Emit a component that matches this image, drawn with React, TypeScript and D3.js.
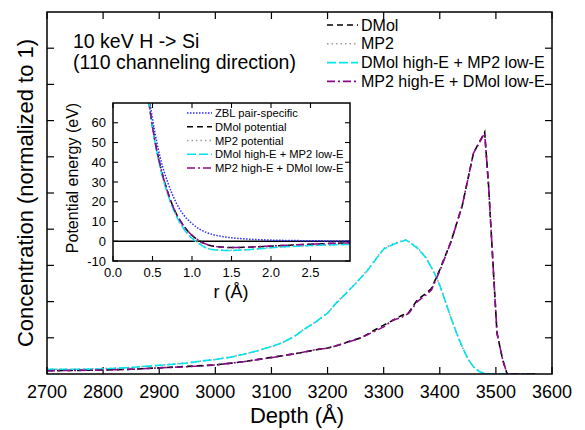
import React from "react";
import * as d3 from "d3";

// ---------- Main plot data (depth profile) ----------
const depthCyan = [2700, 2750, 2800, 2850, 2900, 2950, 2975, 3000, 3030, 3060, 3080, 3090, 3100, 3120, 3140, 3160, 3180, 3200, 3215, 3230, 3250, 3270, 3290, 3300, 3320, 3340, 3360, 3375, 3390, 3400, 3410, 3420, 3430, 3440, 3450, 3460, 3470, 3480, 3490, 3520, 3565];
const concCyan = [0.013, 0.013, 0.014, 0.018, 0.024, 0.03, 0.036, 0.04, 0.047, 0.058, 0.066, 0.072, 0.075, 0.087, 0.103, 0.125, 0.145, 0.168, 0.195, 0.218, 0.25, 0.284, 0.325, 0.345, 0.36, 0.37, 0.348, 0.322, 0.28, 0.245, 0.2, 0.155, 0.113, 0.075, 0.042, 0.02, 0.007, 0.001, 0, 0, 0];
const concMP2 = [0.013, 0.013, 0.015, 0.018, 0.024, 0.031, 0.036, 0.04, 0.048, 0.058, 0.066, 0.072, 0.076, 0.087, 0.103, 0.126, 0.145, 0.168, 0.196, 0.219, 0.25, 0.285, 0.326, 0.347, 0.362, 0.371, 0.35, 0.322, 0.281, 0.245, 0.2, 0.155, 0.113, 0.075, 0.042, 0.02, 0.007, 0.001, 0, 0, 0];

const depthPurple = [2700, 2750, 2800, 2850, 2900, 2950, 3000, 3050, 3100, 3150, 3180, 3200, 3220, 3240, 3260, 3280, 3300, 3315, 3330, 3345, 3360, 3375, 3385, 3400, 3420, 3440, 3460, 3480, 3487, 3495, 3502, 3512, 3520, 3570];
const concPurple = [0.009, 0.01, 0.011, 0.013, 0.017, 0.02, 0.025, 0.034, 0.045, 0.058, 0.068, 0.071, 0.08, 0.09, 0.1, 0.115, 0.13, 0.148, 0.155, 0.168, 0.2, 0.218, 0.232, 0.285, 0.365, 0.465, 0.61, 0.665, 0.52, 0.3, 0.113, 0.04, 0, 0];
const concDMol = [0.009, 0.01, 0.011, 0.013, 0.017, 0.021, 0.025, 0.034, 0.046, 0.058, 0.067, 0.072, 0.08, 0.091, 0.1, 0.118, 0.135, 0.147, 0.16, 0.17, 0.205, 0.222, 0.236, 0.288, 0.366, 0.465, 0.61, 0.668, 0.52, 0.3, 0.113, 0.04, 0, 0];

const depthTicks = [2700, 2800, 2900, 3000, 3100, 3200, 3300, 3400, 3500, 3600];
const concTicks = [0.1, 0.2, 0.3, 0.4, 0.5, 0.6, 0.7, 0.8, 0.9];

const mainLegend = ["DMol", "MP2", "DMol high-E + MP2 low-E", "MP2 high-E + DMol low-E"];

// ---------- Inset data (potentials) ----------
const rZBL = [0.4, 0.45, 0.5, 0.6, 0.7, 0.8, 0.9, 1.0, 1.1, 1.2, 1.4, 1.6, 1.8, 2.0, 2.5, 3.0];
const eZBL = [92, 75, 62, 42, 29, 19.5, 13, 9, 6, 4.2, 2.3, 1.4, 0.9, 0.6, 0.25, 0.1];

const rPot = [0.4, 0.45, 0.5, 0.6, 0.7, 0.8, 0.9, 1.0, 1.1, 1.2, 1.3, 1.5, 1.7, 2.0, 2.5, 3.0];
const eDMol = [90, 72, 58, 38, 24, 14, 7.5, 3, 0, -1.8, -2.7, -3.2, -3.0, -2.5, -1.5, -0.8];
const eMP2 = [90, 72, 57.5, 37, 23, 13, 6.2, 1.8, -1.2, -3.6, -4.3, -4.6, -4.2, -3.2, -2.2, -1.5];
const eCyan = [90, 72, 57.5, 37, 23, 13, 6, 1.5, -1.5, -3.8, -4.4, -4.7, -4.3, -3.3, -2.2, -1.6];
const ePurple = [90, 72, 58, 38, 24, 14, 7.5, 3, 0, -1.8, -2.7, -3.2, -3.0, -2.4, -1.5, -0.8];

const rTicks = [0, 0.5, 1.0, 1.5, 2.0, 2.5];
const eTicks = [-10, 0, 10, 20, 30, 40, 50, 60];

const insetLegend = ["ZBL pair-specific", "DMol potential", "MP2 potential", "DMol high-E + MP2 low-E", "MP2 high-E + DMol low-E"];

const FONT = "'Liberation Sans', Arial, Helvetica, sans-serif";
const CYAN = "#00e5ee";
const PURPLE = "#8b0a8b";
const GRAY = "#9a9a9a";
const BLUE = "#2a2aff";

const styles = {
  dmol: { stroke: "#000", dash: "6,4" },
  mp2: { stroke: GRAY, dash: "1.5,3" },
  cyan: { stroke: CYAN, dash: "9,3" },
  purple: { stroke: PURPLE, dash: "8,3,2,3" },
  zbl: { stroke: BLUE, dash: "1.5,1.5" },
};

export default function App() {
  const W = 585, H = 430;
  const m = { l: 47, r: 552, t: 12, b: 374 };
  const x = d3.scaleLinear().domain([2700, 3600]).range([m.l, m.r]);
  const y = d3.scaleLinear().domain([0, 1]).range([m.b, m.t]);

  const ins = { l: 113, r: 350, t: 103, b: 261 };
  const xi = d3.scaleLinear().domain([0, 3]).range([ins.l, ins.r]);
  const yi = d3.scaleLinear().domain([-10, 70]).range([ins.b, ins.t]);

  const mainLine = (xs: number[], ys: number[]) =>
    d3.line<number>().x((_, i) => x(xs[i])).y((v) => y(v))(ys) || "";
  const insLine = (xs: number[], ys: number[]) =>
    d3.line<number>().x((_, i) => xi(xs[i])).y((v) => yi(v)).curve(d3.curveMonotoneX)(ys) || "";

  const mainSeries = [
    { d: mainLine(depthPurple, concDMol), s: styles.dmol },
    { d: mainLine(depthCyan, concMP2), s: styles.mp2 },
    { d: mainLine(depthCyan, concCyan), s: styles.cyan },
    { d: mainLine(depthPurple, concPurple), s: styles.purple },
  ];
  const mainLegendStyles = [styles.dmol, styles.mp2, styles.cyan, styles.purple];

  const insSeries = [
    { d: insLine(rZBL, eZBL), s: styles.zbl },
    { d: insLine(rPot, eDMol), s: styles.dmol },
    { d: insLine(rPot, eMP2), s: styles.mp2 },
    { d: insLine(rPot, eCyan), s: styles.cyan },
    { d: insLine(rPot, ePurple), s: styles.purple },
  ];
  const insLegendStyles = [styles.zbl, styles.dmol, styles.mp2, styles.cyan, styles.purple];

  const tk = 7;
  const tki = 5;

  return (
    <svg width={W} height={H} style={{ position: "absolute", left: 0, top: 0, background: "#fff" }} fontFamily={FONT}>
      <defs>
        <clipPath id="mainClip">
          <rect x={m.l} y={m.t} width={m.r - m.l} height={m.b - m.t} />
        </clipPath>
        <clipPath id="insClip">
          <rect x={ins.l} y={ins.t} width={ins.r - ins.l} height={ins.b - ins.t} />
        </clipPath>
      </defs>
      <rect x={0} y={0} width={W} height={H} fill="#fff" />

      {/* Main ticks */}
      {depthTicks.map((t) => (
        <g key={"xt" + t}>
          <line x1={x(t)} x2={x(t)} y1={m.b} y2={m.b - tk} stroke="#000" strokeWidth={1.2} />
          <line x1={x(t)} x2={x(t)} y1={m.t} y2={m.t + tk} stroke="#000" strokeWidth={1.2} />
          <text x={x(t)} y={398} fontSize={18} textAnchor="middle" fill="#000">{t}</text>
        </g>
      ))}
      {concTicks.map((t) => (
        <g key={"yt" + t}>
          <line x1={m.l} x2={m.l + tk} y1={y(t)} y2={y(t)} stroke="#000" strokeWidth={1.2} />
          <line x1={m.r} x2={m.r - tk} y1={y(t)} y2={y(t)} stroke="#000" strokeWidth={1.2} />
        </g>
      ))}

      {/* Main curves */}
      <g clipPath="url(#mainClip)">
        {mainSeries.map((s, i) => (
          <path key={i} d={s.d} fill="none" stroke={s.s.stroke} strokeWidth={1.6} strokeDasharray={s.s.dash} />
        ))}
      </g>
      <rect x={m.l} y={m.t} width={m.r - m.l} height={m.b - m.t} fill="none" stroke="#000" strokeWidth={1.5} />

      {/* Title */}
      <text x={73} y={48} fontSize={19.5} fill="#000">10 keV H -&gt; Si</text>
      <text x={73} y={68.5} fontSize={19.5} fill="#000">(110 channeling direction)</text>

      {/* Main legend */}
      {mainLegend.map((lab, i) => {
        const by = 30.5 + i * 18.8;
        const st = mainLegendStyles[i];
        return (
          <g key={"ml" + i}>
            <line x1={327} x2={358} y1={by - 5.5} y2={by - 5.5} stroke={st.stroke} strokeWidth={1.6} strokeDasharray={st.dash} />
            <text x={361} y={by} fontSize={16} fill="#000">{lab}</text>
          </g>
        );
      })}

      {/* Axis labels */}
      <text x={297} y={423} fontSize={22} textAnchor="middle" fill="#000">Depth (Å)</text>
      <text transform={`translate(33,${(m.t + m.b) / 2}) rotate(-90)`} fontSize={22} textAnchor="middle" fill="#000">
        Concentration (normalized to 1)
      </text>

      {/* Inset */}
      <rect x={ins.l} y={ins.t} width={ins.r - ins.l} height={ins.b - ins.t} fill="#fff" />
      {rTicks.map((t) => (
        <g key={"rt" + t}>
          <line x1={xi(t)} x2={xi(t)} y1={ins.b} y2={ins.b - tki} stroke="#000" strokeWidth={1.1} />
          <line x1={xi(t)} x2={xi(t)} y1={ins.t} y2={ins.t + tki} stroke="#000" strokeWidth={1.1} />
          <text x={xi(t)} y={277} fontSize={13} textAnchor="middle" fill="#000">{t.toFixed(1)}</text>
        </g>
      ))}
      {eTicks.map((t) => (
        <g key={"et" + t}>
          <line x1={ins.l} x2={ins.l + tki} y1={yi(t)} y2={yi(t)} stroke="#000" strokeWidth={1.1} />
          <line x1={ins.r} x2={ins.r - tki} y1={yi(t)} y2={yi(t)} stroke="#000" strokeWidth={1.1} />
          <text x={106} y={yi(t) + 4.6} fontSize={13} textAnchor="end" fill="#000">{t}</text>
        </g>
      ))}
      <line x1={ins.l} x2={ins.r} y1={yi(0)} y2={yi(0)} stroke="#000" strokeWidth={1.5} />
      <g clipPath="url(#insClip)">
        {insSeries.map((s, i) => (
          <path key={i} d={s.d} fill="none" stroke={s.s.stroke} strokeWidth={1.5} strokeDasharray={s.s.dash} />
        ))}
      </g>
      {insetLegend.map((lab, i) => {
        const by = 117 + i * 13.75;
        const st = insLegendStyles[i];
        return (
          <g key={"il" + i}>
            <line x1={187} x2={212} y1={by - 4} y2={by - 4} stroke={st.stroke} strokeWidth={1.5} strokeDasharray={st.dash} />
            <text x={215} y={by} fontSize={11.2} fill="#000">{lab}</text>
          </g>
        );
      })}
      <rect x={ins.l} y={ins.t} width={ins.r - ins.l} height={ins.b - ins.t} fill="none" stroke="#000" strokeWidth={1.5} />
      <text x={231} y={298} fontSize={18} textAnchor="middle" fill="#000">r (Å)</text>
      <text transform={`translate(78,${(ins.t + ins.b) / 2 - 4}) rotate(-90)`} fontSize={16} textAnchor="middle" fill="#000">
        Potential energy (eV)
      </text>
    </svg>
  );
}
